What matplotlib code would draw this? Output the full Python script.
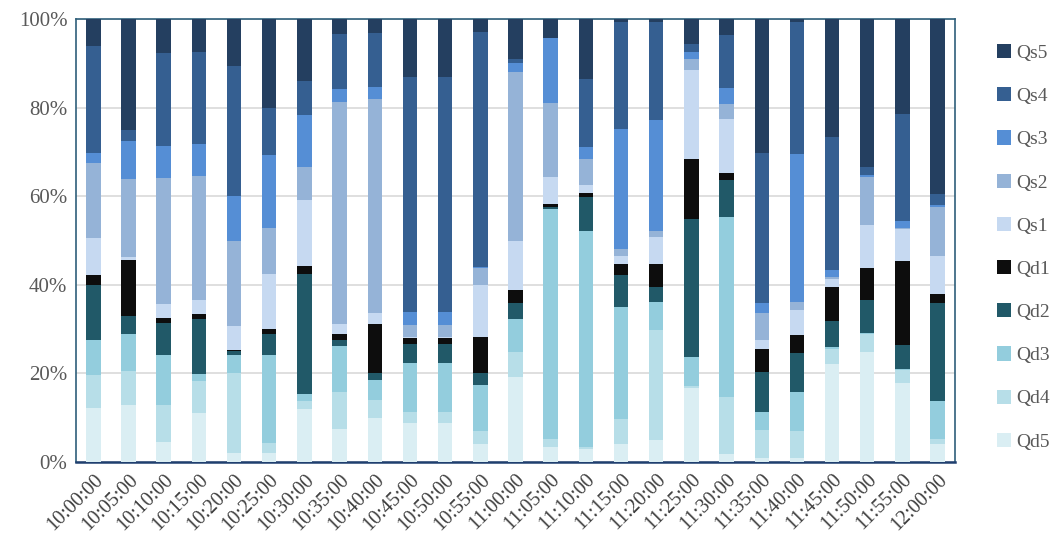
"""100% stacked bars of demand/supply shares per 5-minute interval"""

import matplotlib.pyplot as plt
import numpy as np
from matplotlib.ticker import PercentFormatter

times = ['10:00:00', '10:05:00', '10:10:00', '10:15:00', '10:20:00', '10:25:00',
         '10:30:00', '10:35:00', '10:40:00', '10:45:00', '10:50:00', '10:55:00',
         '11:00:00', '11:05:00', '11:10:00', '11:15:00', '11:20:00', '11:25:00',
         '11:30:00', '11:35:00', '11:40:00', '11:45:00', '11:50:00', '11:55:00',
         '12:00:00']

# shares in percent, bottom to top
Qd5 = [12.3, 12.8, 4.5, 11.1, 2.1, 2.1, 12.0, 7.4, 10.0, 8.8, 8.8, 4.1, 19.2,
       3.4, 3.0, 4.1, 4.9, 16.7, 1.7, 0.9, 0.9, 22.2, 24.8, 17.9, 4.1]
Qd4 = [7.3, 7.7, 8.3, 7.2, 18.0, 2.3, 1.7, 8.4, 3.9, 2.6, 2.6, 2.8, 5.6,
       1.9, 0.4, 5.5, 24.8, 0.5, 13.0, 6.3, 6.0, 3.3, 4.0, 2.8, 1.0]
Qd3 = [7.9, 8.3, 11.3, 1.5, 4.0, 19.7, 1.6, 10.3, 4.5, 11.0, 11.0, 10.4, 7.4,
       51.8, 48.8, 25.4, 6.4, 6.5, 40.6, 4.1, 8.8, 0.5, 0.4, 0.4, 8.7]
Qd2 = [12.4, 4.1, 7.2, 12.4, 1.0, 4.7, 27.1, 1.4, 1.6, 4.3, 4.3, 2.7, 3.6,
       0.5, 7.7, 7.1, 3.3, 31.1, 8.3, 9.0, 8.8, 5.8, 7.3, 5.3, 22.0]
Qd1 = [2.3, 12.7, 1.3, 1.3, 0.2, 1.3, 1.9, 1.3, 11.1, 1.4, 1.4, 8.2, 3.0,
       0.6, 0.7, 2.7, 5.3, 13.6, 1.7, 5.3, 4.1, 7.7, 7.2, 19.0, 2.2]
Qs1 = [8.3, 0.6, 3.0, 3.0, 5.4, 12.3, 14.8, 2.3, 2.6, 0.3, 0.3, 11.7, 11.1,
       6.2, 1.9, 1.7, 6.0, 20.1, 12.1, 1.9, 5.7, 1.8, 9.8, 7.2, 8.5]
Qs2 = [16.9, 17.7, 28.5, 28.0, 19.3, 10.5, 7.5, 50.2, 48.2, 2.6, 2.6, 3.8, 38.2,
       16.7, 5.9, 1.5, 1.4, 2.4, 3.4, 6.2, 1.7, 0.5, 10.9, 0.1, 11.0]
Qs3 = [2.4, 8.5, 7.2, 7.2, 10.0, 16.3, 11.7, 2.8, 2.7, 3.0, 3.0, 0.4, 2.0,
       14.7, 2.8, 27.1, 25.1, 1.7, 3.5, 2.1, 33.5, 1.6, 0.4, 1.7, 0.5]
Qs4 = [24.1, 2.5, 20.9, 20.8, 29.5, 10.8, 7.7, 12.4, 12.3, 53.1, 53.1, 53.0, 0.8,
       0.0, 15.2, 24.3, 22.2, 1.7, 12.1, 33.9, 29.7, 29.9, 1.8, 24.1, 2.4]
Qs5 = [6.1, 25.1, 7.8, 7.5, 10.6, 20.0, 14.0, 3.5, 3.1, 13.2, 13.2, 2.9, 9.1,
       4.2, 13.6, 0.6, 0.6, 5.7, 3.6, 30.3, 0.8, 26.7, 33.4, 21.5, 39.6]

names = ['Qd5', 'Qd4', 'Qd3', 'Qd2', 'Qd1', 'Qs1', 'Qs2', 'Qs3', 'Qs4', 'Qs5']
series = [Qd5, Qd4, Qd3, Qd2, Qd1, Qs1, Qs2, Qs3, Qs4, Qs5]
colors = ['#DAEEF3', '#B7DEE8', '#93CDDD', '#215968', '#0D0D0D',
          '#C6D9F1', '#95B3D7', '#558ED5', '#355F91', '#243F60']

if __name__ == '__main__':
    data = np.array(series, dtype=float)
    data = data / data.sum(axis=0) * 100  # normalise each column to 100%

    fig = plt.figure(figsize=(10.52, 5.4), dpi=100)
    ax = fig.add_axes([0.072, 0.1444, 0.836, 0.8206])

    x = np.arange(len(times))
    bottom = np.zeros(len(times))
    bars = []
    for vals, name, col in zip(data, names, colors):
        b = ax.bar(x, vals, width=0.41, bottom=bottom, color=col, label=name,
                   linewidth=0, zorder=3)
        bars.append(b)
        bottom += vals

    ax.set_xlim(-0.5, len(times) - 0.5)
    ax.set_ylim(0, 100)
    ax.set_yticks(np.arange(0, 101, 20))
    ax.yaxis.set_major_formatter(PercentFormatter(decimals=0))
    ax.grid(axis='y', color='#D9D9D9', linewidth=1.2, zorder=0)
    ax.set_xticks(x)
    ax.set_xticklabels(times, rotation=45, ha='right', rotation_mode='anchor',
                       family='Liberation Serif', fontsize=14.5, color='#404040')
    for lab in ax.get_yticklabels():
        lab.set_family('Liberation Serif')
        lab.set_fontsize(15)
        lab.set_color('#595959')
    ax.tick_params(axis='both', length=0)
    ax.tick_params(axis='y', pad=6)
    ax.tick_params(axis='x', pad=6)

    for side in ['top', 'left', 'right']:
        ax.spines[side].set_color('#2F5F7A')
        ax.spines[side].set_linewidth(1.2)
    ax.spines['bottom'].set_color('#1F3F6F')
    ax.spines['bottom'].set_linewidth(1.8)

    fig.legend(handles=bars[::-1], labels=names[::-1], loc='center left',
               bbox_to_anchor=(0.9475, 0.542), frameon=False,
               prop={'family': 'Liberation Serif', 'size': 14},
               labelcolor='#595959', handlelength=0.75, handleheight=0.75,
               handletextpad=0.25, labelspacing=1.3, borderpad=0,
               borderaxespad=0)

    fig.savefig('out.png', dpi=100)
